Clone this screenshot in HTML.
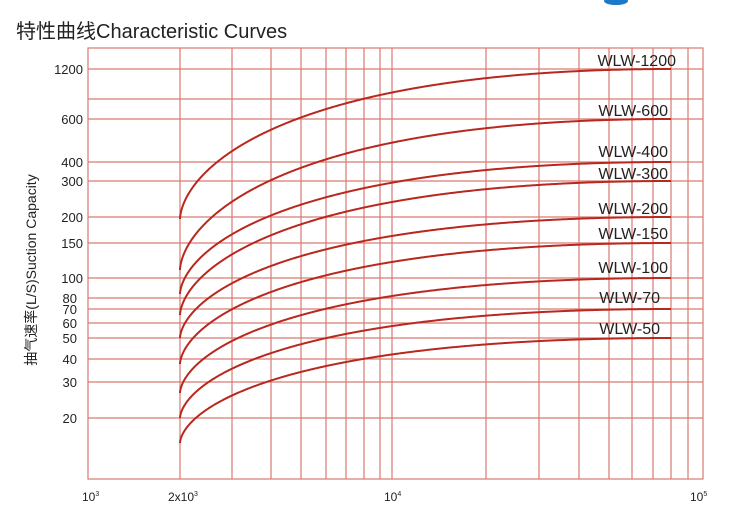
<!DOCTYPE html>
<html><head><meta charset="utf-8"><style>
body{margin:0;background:#fff;}
svg{display:block;font-family:"Liberation Sans","Noto Sans CJK SC",sans-serif;}
</style></head><body>
<svg id="s" width="730" height="511" viewBox="0 0 730 511" xmlns="http://www.w3.org/2000/svg">
<ellipse cx="616" cy="1" rx="12" ry="4" fill="#1a7ac8"/>
<text x="16" y="38" font-size="20" fill="#222">特性曲线Characteristic Curves</text>
<g id="grid" stroke="#d97a72" stroke-width="1.2" fill="none"></g>
<g id="curves" stroke="#b8281e" stroke-width="2" fill="none"></g>
<g font-size="13" fill="#222" text-anchor="end">
<text x="83" y="74">1200</text><text x="83" y="124">600</text><text x="83" y="167">400</text>
<text x="83" y="186">300</text><text x="83" y="222">200</text><text x="83" y="248">150</text>
<text x="83" y="283">100</text><text x="77" y="303">80</text><text x="77" y="314">70</text>
<text x="77" y="328">60</text><text x="77" y="343">50</text><text x="77" y="364">40</text>
<text x="77" y="387">30</text><text x="77" y="423">20</text>
</g>
<text transform="translate(36,270) rotate(-90)" font-size="14" fill="#222" text-anchor="middle">抽气速率(L/S)Suction Capacity</text>
<g font-size="12" fill="#222">
<text x="82" y="501">10<tspan font-size="7" dy="-5">3</tspan></text>
<text x="168" y="501">2x10<tspan font-size="7" dy="-5">3</tspan></text>
<text x="384" y="501">10<tspan font-size="7" dy="-5">4</tspan></text>
<text x="690" y="501">10<tspan font-size="7" dy="-5">5</tspan></text>
</g>
<g font-size="16" fill="#222" text-anchor="end">
<text x="676" y="66">WLW-1200</text><text x="668" y="116">WLW-600</text>
<text x="668" y="157">WLW-400</text><text x="668" y="179">WLW-300</text>
<text x="668" y="214">WLW-200</text><text x="668" y="239">WLW-150</text>
<text x="668" y="273">WLW-100</text><text x="660" y="303">WLW-70</text>
<text x="660" y="334">WLW-50</text>
</g>
</svg>
<script>
var NS="http://www.w3.org/2000/svg";
function el(p,tag,a){var e=document.createElementNS(NS,tag);for(var k in a)e.setAttribute(k,a[k]);p.appendChild(e);}
var g=document.getElementById("grid");
el(g,"rect",{x:88,y:48,width:615,height:431});
[180,232,271,301,326,346,364,380,392,486,539,579,609,632,653,671,688].forEach(function(x){el(g,"line",{x1:x,y1:48,x2:x,y2:479});});
[69,99,119,162,181,217,243,278,298,309,323,338,359,382,418].forEach(function(y){el(g,"line",{x1:88,y1:y,x2:703,y2:y});});
function f(t){return Math.pow(1-Math.pow(t,0.6),2);}
var c=document.getElementById("curves");
[[219,69],[270,119],[294,162],[315,181],[338,217],[364,243],[393,278],[418,309],[443,338]].forEach(function(p){
 var s="";for(var k=0;k<=600;k++){var t=Math.pow(k/600,2);var x=180+491*t;var y=p[1]+(p[0]-p[1])*f(t);s+=(s?"L":"M")+x.toFixed(2)+","+y.toFixed(2);}
 el(c,"path",{d:s});
});
</script>
</body></html>
